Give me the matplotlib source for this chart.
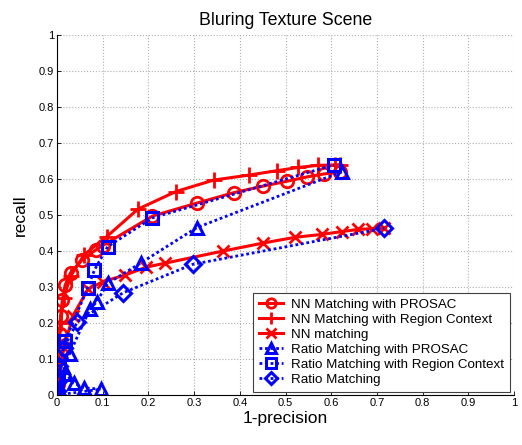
import matplotlib
matplotlib.use("Agg")
import matplotlib.pyplot as plt
import numpy as np

plt.rcParams["font.family"] = ["Liberation Sans", "DejaVu Sans"]

# NN Matching with PROSAC
nn_prosac_x = [0.0, 0.002, 0.004, 0.006, 0.008, 0.012, 0.018, 0.03, 0.055, 0.085, 0.1,
               0.209, 0.306, 0.387, 0.45, 0.504, 0.548, 0.584, 0.619]
nn_prosac_y = [0.0, 0.03, 0.1, 0.17, 0.22, 0.265, 0.305, 0.34, 0.375, 0.403, 0.415,
               0.497, 0.533, 0.562, 0.58, 0.594, 0.606, 0.614, 0.619]

# NN Matching with Region Context
nn_region_x = [0.0, 0.003, 0.008, 0.015, 0.03, 0.06, 0.109, 0.177, 0.26, 0.343,
               0.421, 0.481, 0.528, 0.572, 0.608, 0.62]
nn_region_y = [0.0, 0.1, 0.2, 0.27, 0.33, 0.39, 0.44, 0.516, 0.565, 0.597,
               0.611, 0.623, 0.632, 0.638, 0.639, 0.64]

# NN matching
nn_x = [0.0, 0.005, 0.015, 0.035, 0.068, 0.101, 0.149, 0.195, 0.236, 0.364,
        0.451, 0.521, 0.579, 0.624, 0.659, 0.689, 0.716]
nn_y = [0.0, 0.05, 0.13, 0.22, 0.294, 0.315, 0.333, 0.355, 0.366, 0.4,
        0.422, 0.438, 0.446, 0.454, 0.46, 0.462, 0.463]

# Ratio Matching with PROSAC
ratio_prosac_x = [0.0, 0.096, 0.06, 0.037, 0.02, 0.014, 0.028, 0.072, 0.087, 0.111,
                  0.185, 0.306, 0.623]
ratio_prosac_y = [0.0, 0.016, 0.02, 0.033, 0.058, 0.079, 0.115, 0.238, 0.259, 0.31,
                  0.368, 0.465, 0.62]

# Ratio Matching with Region Context
ratio_region_x = [0.0, 0.001, 0.002, 0.004, 0.018, 0.067, 0.082, 0.111, 0.209, 0.606]
ratio_region_y = [0.0, 0.02, 0.05, 0.079, 0.151, 0.296, 0.347, 0.412, 0.492, 0.639]

# Ratio Matching
ratio_x = [0.0, 0.0, 0.002, 0.005, 0.015, 0.045, 0.145, 0.297, 0.716]
ratio_y = [0.0, 0.01, 0.04, 0.08, 0.13, 0.204, 0.284, 0.363, 0.463]

ticks = np.round(np.arange(0, 1.01, 0.1), 1)
tick_labels = ["0", "0.1", "0.2", "0.3", "0.4", "0.5", "0.6", "0.7", "0.8", "0.9", "1"]

fig = plt.figure(figsize=(5.22, 4.45), dpi=100)
ax = fig.add_axes([0.109, 0.1124, 0.876, 0.809])

red = "#ff0000"
blue = "#0000ff"
red_kw = dict(color=red, lw=2.2, ms=9, mew=2, mfc="none")
blue_kw = dict(color=blue, lw=2.0, ls=(0, (1, 1)), ms=9, mew=2.2, mfc="none")

ax.plot(nn_prosac_x, nn_prosac_y, marker="o", label="NN Matching with PROSAC", **red_kw)
ax.plot(nn_region_x, nn_region_y, marker="+", label="NN Matching with Region Context",
        **{**red_kw, "ms": 12})
ax.plot(nn_x, nn_y, marker="x", label="NN matching", **red_kw)
ax.plot(ratio_prosac_x, ratio_prosac_y, marker="^", label="Ratio Matching with PROSAC", **blue_kw)
ax.plot(ratio_region_x, ratio_region_y, marker="s", label="Ratio Matching with Region Context", **blue_kw)
ax.plot(ratio_x, ratio_y, marker="D", label="Ratio Matching", **{**blue_kw, "ms": 8})

ax.set_xlim(0, 1)
ax.set_ylim(0, 1)
ax.set_xticks(ticks)
ax.set_yticks(ticks)
ax.set_xticklabels(tick_labels, fontsize=8)
ax.set_yticklabels(tick_labels, fontsize=8)
ax.tick_params(direction="in", length=3, width=0.6, pad=2)
ax.grid(True, ls=":", color="#b0b0b0", lw=0.8)
ax.set_axisbelow(True)
for s in ["top", "right"]:
    ax.spines[s].set_visible(False)
for s in ["left", "bottom"]:
    ax.spines[s].set_linewidth(0.8)

ax.set_title("Bluring Texture Scene", fontsize=12.8, pad=7)
ax.set_xlabel("1-precision", fontsize=12.5, labelpad=2)
ax.set_ylabel("recall", fontsize=12.5, labelpad=8)

leg = ax.legend(loc="lower right", bbox_to_anchor=(0.991, 0.008), fontsize=9.6,
                fancybox=False, framealpha=1, edgecolor="#404040", markerscale=0.75,
                handlelength=1.8, handletextpad=0.6, borderaxespad=0,
                labelspacing=0.2, borderpad=0.45)
leg.get_frame().set_linewidth(0.8)

fig.savefig("out.png", dpi=100)
